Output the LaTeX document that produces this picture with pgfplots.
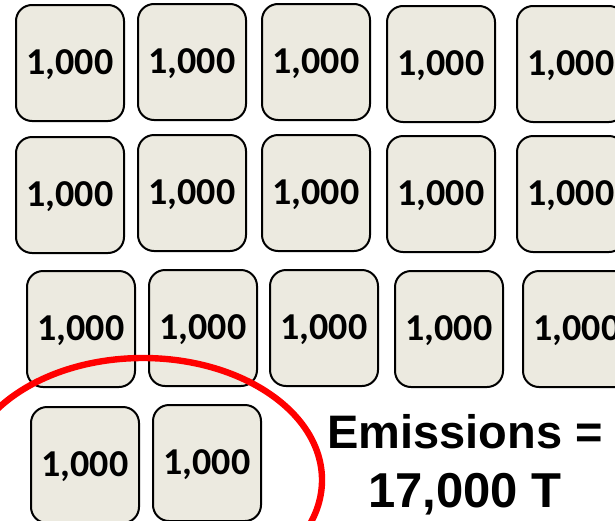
\documentclass[border=0pt]{standalone}
\usepackage{fontspec}
\setmainfont{Carlito}
\newfontfamily\arialfont{Liberation Sans}
\usepackage{pgfplots}
\pgfplotsset{compat=1.18}
\usepackage{pgfplotstable}
\definecolor{boxfill}{RGB}{236,234,224}
\definecolor{ringred}{RGB}{255,0,0}

% block centres in pixel coordinates (y measured downward) and block values
\pgfplotstableread{
x y v
70 63 1000
192 62 1000
316 62 1000
441 64 1000
571 64 1000
70 195 1000
192 193 1000
316 193 1000
441 194 1000
571 194 1000
81 329 1000
203 328 1000
324 328 1000
449 329 1000
577 329 1000
85 465 1000
207 463 1000
}\blocks

\pgfplotsset{canvas/.style={
  anchor=south west, at={(0,0)},
  scale only axis, width=307.5pt, height=260pt,
  xmin=0, xmax=615, ymin=0, ymax=520, y dir=reverse,
  axis lines=none, clip=false}}

\begin{document}
\begin{tikzpicture}
\useasboundingbox (0,0) rectangle (307.5pt,260pt);
\clip (0,0) rectangle (307.5pt,260pt);
\begin{axis}[canvas]
\addplot[only marks, mark=none, point meta=explicit,
  nodes near coords={\pgfmathprintnumber[1000 sep={,},assume math mode=true]{\pgfplotspointmeta}},
  nodes near coords align={anchor=center},
  every node near coord/.append style={anchor=center, draw=black, line width=1pt,
    fill=boxfill, rounded corners=8pt, minimum width=54pt, minimum height=58pt,
    inner sep=0pt, text=black, text depth=3pt, text height=14pt,
    font=\bfseries\fontsize{19}{21}\selectfont}]
  table[x=x, y=y, meta=v] {\blocks};
\end{axis}
\begin{axis}[canvas]
\draw[ringred, line width=3.2pt] (axis cs:143,480) ellipse [x radius=179, y radius=122];
\node[font=\arialfont\bfseries\fontsize{23.5}{28}\selectfont, anchor=base, text=black, inner sep=0pt]
  at (axis cs:465,448) {Emissions =};
\node[font=\arialfont\bfseries\fontsize{24.5}{28}\selectfont, anchor=base, text=black, inner sep=0pt]
  at (axis cs:465,507) {17,000 T};
\end{axis}
\end{tikzpicture}
\end{document}
